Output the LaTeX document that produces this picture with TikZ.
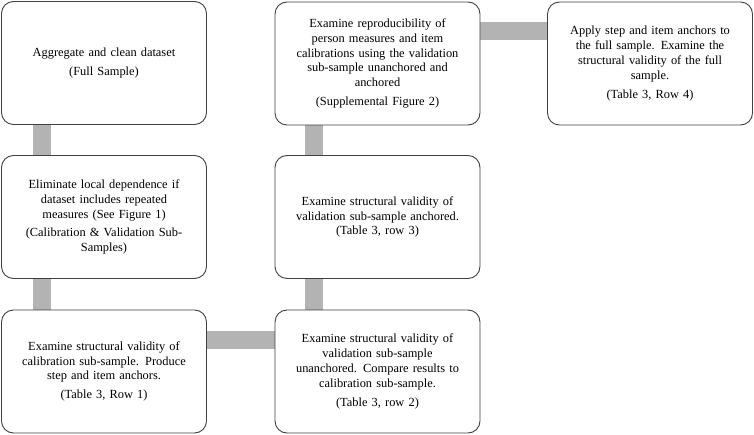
\documentclass[tikz,border=0pt]{standalone}
\usepackage{fontspec}
\setmainfont[WordSpace={1.3,1,1}]{Liberation Serif}
\usetikzlibrary{backgrounds}
\definecolor{boxline}{HTML}{404040}
\definecolor{connfill}{HTML}{B3B3B3}
\tikzset{
  stepbox/.style={draw=boxline, line width=0.9pt, fill=white, rounded corners=12pt,
    minimum width=205pt, minimum height=123pt, text width=200pt, align=center,
    inner sep=0pt, font=\fontsize{12.4}{14.8}\selectfont},
  conn/.style={draw=connfill, line width=18pt, line cap=butt}
}
\begin{document}
\begin{tikzpicture}[x=1pt,y=-1pt]
\useasboundingbox (0,0) rectangle (754,435);
\node[stepbox] (b1) at (104,63) {Aggregate and clean dataset\\[5pt](Full Sample)};
\node[stepbox] (b2) at (104,217) {Eliminate local dependence if\\dataset includes repeated\\measures (See Figure 1)\\[4pt](Calibration \& Validation Sub-\\Samples)};
\node[stepbox] (b3) at (104,371.5) {Examine structural validity of\\calibration sub-sample. Produce\\step and item anchors.\\[4pt](Table 3, Row 1)};
\node[stepbox] (b4) at (377.5,371.5) {Examine structural validity of\\validation sub-sample\\unanchored. Compare results to\\calibration sub-sample.\\[4pt](Table 3, row 2)};
\node[stepbox] (b5) at (377.5,217) {Examine structural validity of\\validation sub-sample anchored.\\(Table 3, row 3)};
\node[stepbox] (b6) at (377.5,63.5) {Examine reproducibility of\\person measures and item\\calibrations using the validation\\sub-sample unanchored and\\anchored\\[4pt](Supplemental Figure 2)};
\node[stepbox] (b7) at (650,63.5) {Apply step and item anchors to\\the full sample. Examine the\\structural validity of the full\\sample.\\[4pt](Table 3, Row 4)};
\begin{scope}[on background layer]
\draw[conn] ([xshift=41pt]b1.south west) -- ([xshift=41pt]b2.north west);
\draw[conn] ([xshift=41pt]b2.south west) -- ([xshift=41pt]b3.north west);
\draw[conn] ([yshift=-30pt]b3.north east) -- ([yshift=-30pt]b4.north west);
\draw[conn] ([xshift=39pt]b4.north west) -- ([xshift=39pt]b5.south west);
\draw[conn] ([xshift=39pt]b5.north west) -- ([xshift=39pt]b6.south west);
\draw[conn] ([yshift=-29pt]b6.north east) -- ([yshift=-29pt]b7.north west);
\end{scope}
\end{tikzpicture}
\end{document}
